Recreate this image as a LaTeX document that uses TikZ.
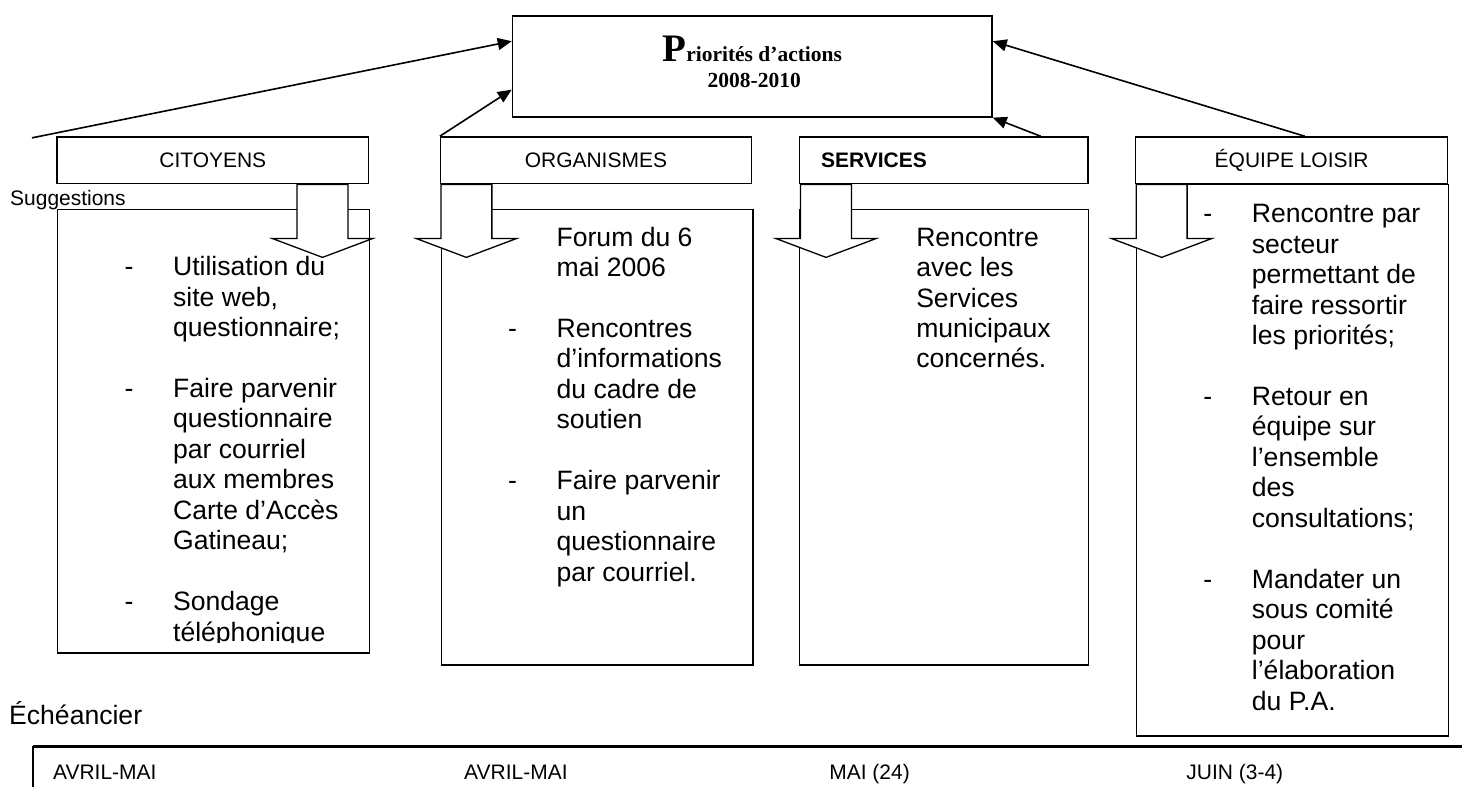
\documentclass[tikz,border=0pt]{standalone}
\usepackage{fontspec}
\setmainfont{Liberation Sans}
\newfontfamily\titrefont{Liberation Serif}
\usetikzlibrary{arrows.meta}
\tikzset{
  cadre/.style={draw, line width=1.3pt, inner sep=0pt, anchor=north west},
  entete/.style={draw, line width=1.3pt, inner sep=0pt, minimum height=47pt, font=\fontsize{21}{25}\selectfont},
  texte/.style={inner sep=0pt, anchor=north west, font=\fontsize{26.6}{30.5}\selectfont},
  petit/.style={inner sep=0pt, anchor=base west, font=\fontsize{21}{25}\selectfont},
  fleche/.style={-{Triangle[length=14pt,width=12pt]}, line width=1.6pt},
  bloc/.style={draw, fill=white, line width=1.3pt, line join=miter},
}
\begin{document}
\begin{tikzpicture}[x=1pt,y=-1pt]
        \fill [white] (0,0) rectangle (1463,788);
        % titre
        \node (prio) [draw, line width=1.5pt, minimum width=480pt, minimum height=101pt] at (753,66.5) {};
        \node (priotitre) [inner sep=0pt, anchor=base, font=\titrefont\bfseries\fontsize{21.5}{24}\selectfont] at (753,62) {{\fontsize{39}{39}\selectfont P}riorités d’actions};
        \node (prioannees) [inner sep=0pt, anchor=base, font=\titrefont\bfseries\fontsize{21.5}{24}\selectfont] at (755,88) {2008-2010};
        % en-tetes
        \node (citoyens) [entete, minimum width=312pt] at (213,160.5) {CITOYENS};
        \node (organismes) [entete, minimum width=311pt] at (596.5,160.5) {ORGANISMES};
        \node (services) [entete, inner xsep=22pt, text width=245pt, align=left, font=\fontsize{21}{25}\selectfont\bfseries] at (944.5,160.5) {SERVICES};
        \node (equipe) [entete, minimum width=312pt] at (1293,160.5) {ÉQUIPE LOISIR};
        \coordinate (suggdepart) at (32,138);
        \node (suggestions) [petit] at (10,206) {Suggestions};
        % fleches vers le titre
        \draw [fleche] (suggdepart) -- ([yshift=-26pt]prio.north west);
        \draw [fleche] (organismes.north west) -- ([yshift=28pt]prio.south west);
        \draw [fleche] ([xshift=-48pt]services.north east) -- (prio.south east);
        \draw [fleche] ([xshift=13pt]equipe.north) -- ([yshift=-26pt]prio.north east);
        % cadres
        \node (citoyensbox) [cadre, minimum width=312pt, minimum height=444pt] at (57,209) {};
        \node (organismesbox) [cadre, minimum width=312pt, minimum height=456pt] at (441,209) {};
        \node (servicesbox) [cadre, minimum width=289pt, minimum height=456pt] at (800,209) {};
        \node (equipebox) [cadre, minimum width=312pt, minimum height=552pt] at (1137,184) {};
        % fleches vers le bas
        \foreach \n/\dx in {citoyens/241,organismes/1,services/2,equipe/1}
          \draw [bloc] ([xshift=\dx pt]\n.south west) -- ++(0,54) -- ++(-25,0) -- ++(50.5,19)
            -- ++(50.5,-19) -- ++(-25,0) -- ++(0,-54) -- cycle;
        % textes
        \begin{scope}
          \clip (57,209) rectangle (369,643);
          \node (citoyenstxt) [texte] at (124.6,254.3) {\begin{tabular}{@{}p{48.5pt}@{}l@{}}
            - & Utilisation du\\ & site web,\\ & questionnaire;\\ & \\
            - & Faire parvenir\\ & questionnaire\\ & par courriel\\ & aux membres\\ & Carte d’Accès\\ & Gatineau;\\ & \\
            - & Sondage\\ & téléphonique\\ & \end{tabular}};
        \end{scope}
        \node (organismestxt) [texte] at (508.5,224.8) {\begin{tabular}{@{}p{48.5pt}@{}l@{}}
            & Forum du 6\\ & mai 2006\\ & \\
            - & Rencontres\\ & d’informations\\ & du cadre de\\ & soutien\\ & \\
            - & Faire parvenir\\ & un\\ & questionnaire\\ & par courriel.\end{tabular}};
        \node (servicestxt) [texte] at (917,224.8) {\begin{tabular}{@{}l@{}}
            Rencontre\\ avec les\\ Services\\ municipaux\\ concernés.\end{tabular}};
        \node (equipetxt) [texte] at (1204.5,201.3) {\begin{tabular}{@{}p{48.5pt}@{}l@{}}
            - & Rencontre par\\ & secteur\\ & permettant de\\ & faire ressortir\\ & les priorités;\\ & \\
            - & Retour en\\ & équipe sur\\ & l’ensemble\\ & des\\ & consultations;\\ & \\
            - & Mandater un\\ & sous comité\\ & pour\\ & l’élaboration\\ & du P.A.\end{tabular}};
        % echeancier
        \node (echeancier) [petit, font=\fontsize{26.6}{30.5}\selectfont] at (9,725) {Échéancier};
        \draw [line width=3pt] (33,747) -- (1463,747);
        \draw [line width=1.3pt] (33,747) -- (33,788);
        \node (avril1) [petit] at (53,780) {AVRIL-MAI};
        \node (avril2) [petit] at (464.5,780) {AVRIL-MAI};
        \node (mai) [petit] at (830,780) {MAI (24)};
        \node (juin) [petit] at (1187.5,780) {JUIN (3-4)};
    \end{tikzpicture}
\end{document}
